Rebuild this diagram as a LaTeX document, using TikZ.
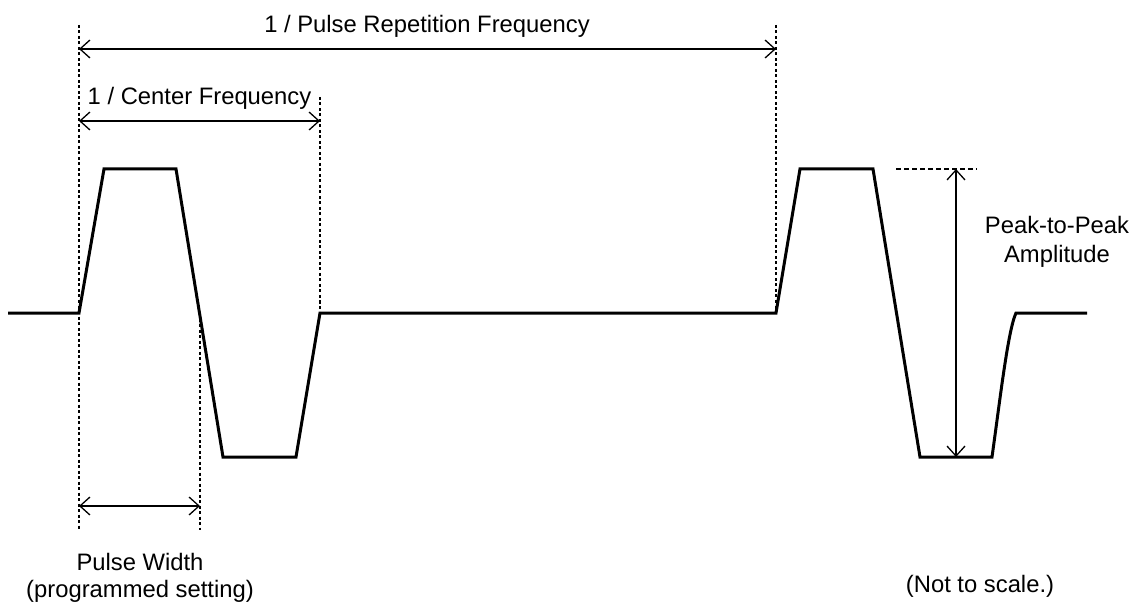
\documentclass[tikz,border=0pt]{standalone}
\usepackage{fontspec}
\setmainfont{Liberation Sans}
\usetikzlibrary{arrows.meta}
\begin{document}
\begin{tikzpicture}[x=1pt,y=-1pt,
  wave/.style={line width=3pt, line join=miter},
  dim/.style={line width=1.3pt, {Straight Barb[length=10pt,width=18pt]}-{Straight Barb[length=10pt,width=18pt]}},
  guide/.style={line width=1.5pt, dash pattern=on 3pt off 2.5pt},
  lbl/.style={inner sep=0pt, anchor=base, font=\fontsize{23.8}{28}\selectfont}]
\useasboundingbox (0,0) rectangle (1133,604);
% waveform
\draw[wave] (8,313) -- (79,313) -- (104,169) -- (176,169) -- (223,457) -- (296,457) -- (320,313)
  -- (776,313) -- (800,169) -- (873,169) -- (920,457) -- (992,457)
  .. controls (1000,400) and (1008,330) .. (1016,313) -- (1087,313);
% guide coordinates
\coordinate (g1t) at (79,25);
\coordinate (g1b) at (79,530);
\coordinate (g2t) at (320,97);
\coordinate (g2b) at (320,313);
\coordinate (g3t) at (200,313);
\coordinate (g3b) at (200,530);
\coordinate (g4t) at (776,25);
\coordinate (g4b) at (776,313);
\coordinate (h1) at (896,169);
\coordinate (h2) at (977,169);
\draw[guide] (g1t) -- (g1b);
\draw[guide] (g2t) -- (g2b);
\draw[guide] (g3t) -- (g3b);
\draw[guide] (g4t) -- (g4b);
\draw[line width=1.5pt, dash pattern=on 5pt off 3pt] (h1) -- (h2);
% dimension arrows
\coordinate (prfL) at (79,49);
\coordinate (prfR) at (776,49);
\coordinate (cfL) at (79,121);
\coordinate (cfR) at (320,121);
\coordinate (pwL) at (79,506);
\coordinate (pwR) at (200,506);
\coordinate (ppT) at (956,169);
\coordinate (ppB) at (956,457);
\draw[dim] (prfL) -- (prfR);
\draw[dim] (cfL) -- (cfR);
\draw[dim] (pwL) -- (pwR);
\draw[dim] (ppT) -- (ppB);
% labels
\node[lbl] (prf) at (427,33) {1 / Pulse Repetition Frequency};
\node[lbl] (cf) at (199.5,105) {1 / Center Frequency};
\node[lbl] (pw1) at (140,570) {Pulse Width};
\node[lbl] (pw2) at (140,597) {(programmed setting)};
\node[lbl] (pp1) at (1057,234) {Peak-to-Peak};
\node[lbl] (pp2) at (1057,263) {Amplitude};
\node[lbl] (nts) at (980,592) {(Not to scale.)};
\end{tikzpicture}
\end{document}
